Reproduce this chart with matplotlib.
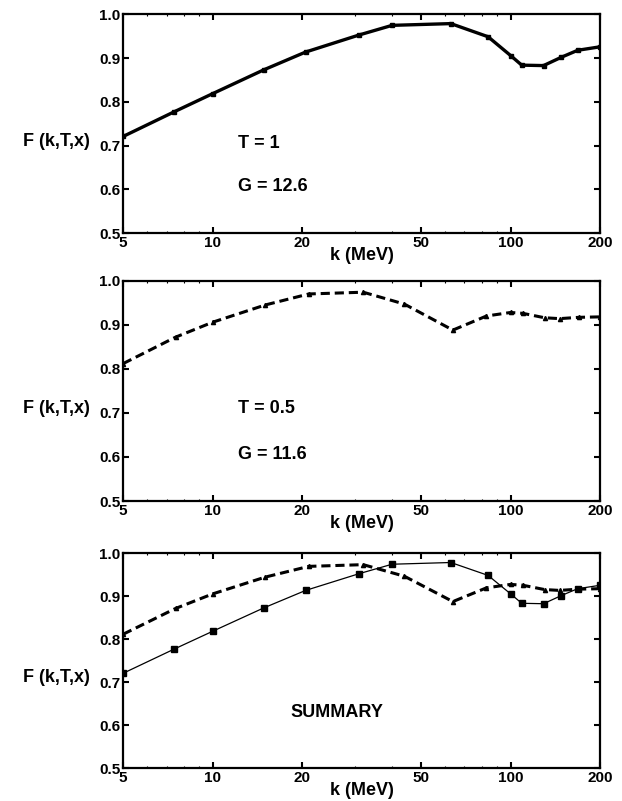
import numpy as np
import matplotlib
matplotlib.use("Agg")
import matplotlib.pyplot as plt
from matplotlib.ticker import FixedLocator, FixedFormatter, NullFormatter, LogLocator

plt.rcParams['font.family'] = ['Liberation Sans', 'DejaVu Sans']
plt.rcParams['font.weight'] = 'bold'

# T = 1 curve (solid, squares)
k_t1 = [5, 7.4, 10, 14.8, 20.5, 31, 40, 63, 84, 100, 109, 129, 148, 168, 200]
f_t1 = [0.721, 0.777, 0.819, 0.873, 0.914, 0.953, 0.975, 0.979, 0.949, 0.906,
        0.884, 0.883, 0.902, 0.918, 0.926]

# T = 0.5 curve (dashed, triangles)
k_t05 = [5, 7.5, 10, 15, 21, 32, 44, 64, 83, 100, 110, 130, 146, 170, 200]
f_t05 = [0.812, 0.872, 0.906, 0.945, 0.970, 0.974, 0.947, 0.888, 0.920, 0.928,
         0.926, 0.916, 0.914, 0.917, 0.918]

xticks = [5, 10, 20, 50, 100, 200]
xtick_labels = ["5", "10", "20", "50", "100", "200"]
yticks = [0.5, 0.6, 0.7, 0.8, 0.9, 1.0]

fig = plt.figure(figsize=(6.22, 8.01), dpi=100)

left, width = 0.198, 0.767
ax1 = fig.add_axes([left, 0.709, width, 0.273])
ax2 = fig.add_axes([left, 0.3745, width, 0.275])
ax3 = fig.add_axes([left, 0.041, width, 0.268])


def style(ax):
    ax.set_xscale('log')
    ax.set_xlim(5, 200)
    ax.set_ylim(0.5, 1.0)
    ax.xaxis.set_major_locator(FixedLocator(xticks))
    ax.xaxis.set_major_formatter(FixedFormatter(xtick_labels))
    ax.xaxis.set_minor_locator(LogLocator(base=10, subs=np.arange(2, 10)))
    ax.xaxis.set_minor_formatter(NullFormatter())
    ax.set_yticks(yticks)
    ax.set_yticklabels(["%.1f" % v for v in yticks])
    ax.tick_params(axis='both', which='major', direction='in', length=4, width=1.5,
                   top=True, right=True, labelsize=11, pad=2)
    ax.tick_params(axis='x', which='minor', direction='in', length=1.5, width=0.8,
                   top=True, bottom=True)
    for lab in ax.get_xticklabels() + ax.get_yticklabels():
        lab.set_fontweight('bold')
    for s in ax.spines.values():
        s.set_linewidth(1.6)
    ax.set_xlabel("k (MeV)", fontsize=13, fontweight='bold', labelpad=-2)
    ax.text(-0.07, 0.42, "F (k,T,x)", transform=ax.transAxes, ha='right',
            va='center', fontsize=13, fontweight='bold')


# top panel
ax1.plot(k_t1, f_t1, color='black', lw=2.4, marker='s', ms=3.5)
style(ax1)
ax1.text(0.24, 0.41, "T = 1", transform=ax1.transAxes, fontsize=13,
         fontweight='bold', va='center')
ax1.text(0.24, 0.215, "G = 12.6", transform=ax1.transAxes, fontsize=13,
         fontweight='bold', va='center')

# middle panel
ax2.plot(k_t05, f_t05, color='black', lw=2.2, ls=(0, (3, 1.6)),
         marker='^', ms=3)
style(ax2)
ax2.text(0.24, 0.42, "T = 0.5", transform=ax2.transAxes, fontsize=13,
         fontweight='bold', va='center')
ax2.text(0.24, 0.21, "G = 11.6", transform=ax2.transAxes, fontsize=13,
         fontweight='bold', va='center')

# summary panel
ax3.plot(k_t1, f_t1, color='black', lw=0.9, marker='s', ms=4.5)
ax3.plot(k_t05, f_t05, color='black', lw=2.2, ls=(0, (3, 1.6)),
         marker='^', ms=3)
style(ax3)
ax3.text(0.448, 0.26, "SUMMARY", transform=ax3.transAxes, fontsize=13,
         fontweight='bold', ha='center', va='center')

fig.savefig("out.png", dpi=100)
